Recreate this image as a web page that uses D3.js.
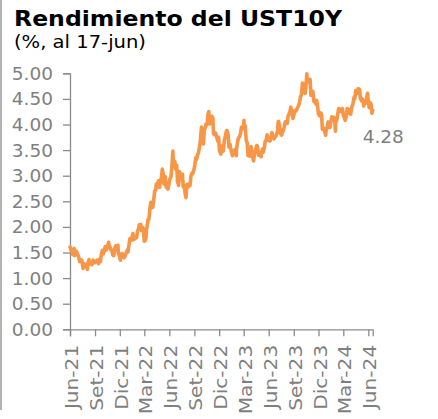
<!DOCTYPE html>
<html>
<head>
<meta charset="utf-8">
<script src="https://cdn.jsdelivr.net/npm/d3@7"></script>
<style>
  html, body { margin: 0; padding: 0; background: #fff; }
  svg { display: block; font-family: "DejaVu Sans", Verdana, sans-serif; }
</style>
</head>
<body>
<svg id="chart" width="438" height="419"></svg>
<script>
// Rendimiento del UST10Y (%, fecha mm-dd)
const y2021 = [
  ["06-01",1.61],["06-04",1.56],["06-08",1.53],["06-11",1.46],["06-16",1.58],["06-18",1.44],
  ["06-23",1.49],["06-25",1.52],["06-30",1.45],["07-02",1.43],["07-07",1.32],["07-09",1.36],
  ["07-14",1.35],["07-16",1.30],["07-19",1.19],["07-23",1.28],["07-27",1.24],["07-30",1.24],
  ["08-04",1.17],["08-06",1.30],["08-10",1.36],["08-13",1.28],["08-18",1.27],["08-20",1.26],
  ["08-25",1.35],["08-27",1.31],["09-01",1.30],["09-03",1.32],["09-08",1.35],["09-10",1.34],
  ["09-14",1.28],["09-17",1.37],["09-21",1.32],["09-24",1.46],["09-28",1.54],["10-01",1.47],
  ["10-05",1.53],["10-08",1.61],["10-13",1.55],["10-15",1.59],["10-21",1.70],["10-22",1.65],
  ["10-26",1.61],["10-29",1.55],["11-02",1.55],["11-05",1.45],["11-09",1.44],["11-12",1.58],
  ["11-16",1.63],["11-19",1.54],["11-24",1.64],["11-26",1.48],["11-30",1.43],["12-03",1.35],
  ["12-07",1.47],["12-10",1.48],["12-14",1.44],["12-17",1.40],["12-20",1.42],["12-24",1.49],
  ["12-29",1.55],["12-31",1.51]
];
const y2022 = [
  ["01-04",1.66],["01-07",1.77],["01-11",1.74],["01-14",1.78],["01-18",1.87],["01-21",1.75],
  ["01-25",1.77],["01-28",1.78],["02-01",1.79],["02-04",1.92],["02-08",1.96],["02-10",2.04],
  ["02-14",1.99],["02-16",2.05],["02-18",1.93],["02-23",1.99],["02-25",1.97],["03-01",1.72],
  ["03-04",1.73],["03-07",1.78],["03-09",1.95],["03-11",2.00],["03-15",2.15],["03-18",2.15],
  ["03-22",2.38],["03-25",2.48],["03-28",2.46],["04-01",2.38],["04-05",2.55],["04-08",2.70],
  ["04-12",2.72],["04-14",2.83],["04-18",2.85],["04-20",2.84],["04-22",2.90],["04-26",2.77],
  ["04-29",2.89],["05-03",2.96],["05-06",3.13],["05-09",3.05],["05-12",2.84],["05-13",2.93],
  ["05-17",2.98],["05-20",2.78],["05-24",2.76],["05-27",2.74],["05-31",2.85],["06-03",2.94],
  ["06-07",2.98],["06-10",3.16],["06-14",3.48],["06-16",3.20],["06-17",3.23],["06-21",3.28],
  ["06-24",3.13],["06-28",3.20],["07-01",2.88],["07-05",2.81],["07-08",3.08],["07-12",2.96],
  ["07-15",2.93],["07-19",3.03],["07-22",2.78],["07-26",2.81],["07-29",2.65],["08-01",2.57],
  ["08-05",2.83],["08-09",2.78],["08-12",2.84],["08-16",2.81],["08-19",2.98],["08-23",3.05],
  ["08-26",3.04],["08-30",3.11],["09-02",3.19],["09-06",3.35],["09-09",3.32],["09-13",3.41],
  ["09-16",3.45],["09-20",3.57],["09-23",3.69],["09-27",3.95],["09-30",3.83],["10-04",3.62],
  ["10-07",3.88],["10-11",3.94],["10-14",4.01],["10-18",4.00],["10-21",4.21],["10-24",4.25],
  ["10-26",4.01],["10-28",4.01],["11-01",4.05],["11-04",4.16],["11-08",4.12],["11-10",3.82],
  ["11-15",3.80],["11-18",3.83],["11-22",3.76],["11-25",3.68],["11-29",3.75],["12-02",3.49],
  ["12-07",3.42],["12-09",3.58],["12-13",3.50],["12-16",3.48],["12-20",3.69],["12-23",3.75],
  ["12-28",3.88],["12-30",3.88]
];
const y2023 = [
  ["01-03",3.79],["01-06",3.56],["01-10",3.61],["01-13",3.51],["01-19",3.39],["01-20",3.48],
  ["01-24",3.47],["01-27",3.51],["01-31",3.52],["02-02",3.39],["02-03",3.53],["02-07",3.67],
  ["02-10",3.74],["02-14",3.76],["02-17",3.82],["02-21",3.95],["02-24",3.95],["02-28",3.92],
  ["03-02",4.08],["03-03",3.96],["03-07",3.97],["03-10",3.70],["03-14",3.64],["03-17",3.39],
  ["03-20",3.49],["03-24",3.38],["03-28",3.57],["03-31",3.47],["04-04",3.34],["04-06",3.29],
  ["04-10",3.41],["04-14",3.51],["04-18",3.59],["04-21",3.57],["04-25",3.40],["04-28",3.44],
  ["05-02",3.44],["05-04",3.37],["05-05",3.44],["05-09",3.52],["05-12",3.46],["05-16",3.54],
  ["05-19",3.67],["05-23",3.70],["05-26",3.80],["05-30",3.69],["06-02",3.69],["06-06",3.68],
  ["06-09",3.74],["06-13",3.84],["06-16",3.76],["06-20",3.72],["06-23",3.74],["06-27",3.77],
  ["06-30",3.81],["07-03",3.86],["07-06",4.05],["07-07",4.06],["07-11",3.97],["07-14",3.83],
  ["07-18",3.79],["07-21",3.84],["07-25",3.89],["07-28",3.96],["08-01",4.05],["08-04",4.03],
  ["08-08",4.02],["08-11",4.16],["08-15",4.21],["08-18",4.25],["08-21",4.34],["08-25",4.24],
  ["08-29",4.12],["09-01",4.18],["09-05",4.27],["09-08",4.26],["09-12",4.29],["09-15",4.33],
  ["09-19",4.37],["09-22",4.43],["09-26",4.55],["09-29",4.57],["10-03",4.81],["10-06",4.78],
  ["10-10",4.65],["10-13",4.61],["10-17",4.83],["10-19",4.99],["10-20",4.91],["10-24",4.83],
  ["10-27",4.84],["10-31",4.88],["11-02",4.67],["11-03",4.57],["11-07",4.58],["11-10",4.65],
  ["11-14",4.45],["11-17",4.44],["11-21",4.40],["11-24",4.47],["11-28",4.34],["12-01",4.20],
  ["12-05",4.17],["12-08",4.23],["12-12",4.21],["12-15",3.91],["12-19",3.93],["12-22",3.90],
  ["12-27",3.79],["12-29",3.88]
];
const y2024 = [
  ["01-02",3.95],["01-05",4.05],["01-09",4.02],["01-12",3.94],["01-16",4.07],["01-19",4.15],
  ["01-23",4.13],["01-26",4.14],["01-30",4.04],["02-01",3.87],["02-02",4.03],["02-06",4.09],
  ["02-09",4.18],["02-13",4.31],["02-16",4.30],["02-20",4.28],["02-23",4.25],["02-27",4.31],
  ["03-01",4.18],["03-05",4.13],["03-08",4.08],["03-12",4.16],["03-15",4.31],["03-19",4.30],
  ["03-22",4.22],["03-26",4.23],["03-28",4.20],["04-02",4.36],["04-05",4.39],["04-10",4.54],
  ["04-12",4.50],["04-16",4.67],["04-19",4.62],["04-23",4.61],["04-25",4.70],["04-30",4.68],
  ["05-03",4.50],["05-07",4.46],["05-10",4.50],["05-14",4.44],["05-15",4.36],["05-17",4.42],
  ["05-21",4.41],["05-24",4.47],["05-29",4.61],["05-31",4.50],["06-04",4.33],["06-07",4.43],
  ["06-11",4.40],["06-14",4.22],["06-17",4.28]
];

const tickFechas = ["2021-06-01","2021-09-01","2021-12-01","2022-03-01","2022-06-01","2022-09-01",
  "2022-12-01","2023-03-01","2023-06-01","2023-09-01","2023-12-01","2024-03-01","2024-06-01"];
const tickEtiquetas = ["Jun-21","Set-21","Dic-21","Mar-22","Jun-22","Set-22","Dic-22",
  "Mar-23","Jun-23","Set-23","Dic-23","Mar-24","Jun-24"];
const yTicks = [0, 0.5, 1, 1.5, 2, 2.5, 3, 3.5, 4, 4.5, 5];

const titulo = "Rendimiento del UST10Y";
const subtitulo = "(%, al 17-jun)";

(function() {
    const parse = d3.timeParse('%Y-%m-%d');
    const serie = [];
    [[2021, y2021], [2022, y2022], [2023, y2023], [2024, y2024]].forEach(([anio, filas]) => {
        filas.forEach(([md, v]) => serie.push({ fecha: parse(anio + '-' + md), valor: v }));
    });

    const axisColor = '#8c8c8c';
    const textColor = '#7f7f7f';

    const svg = d3.select('#chart');

    // borde izquierdo
    svg.append('line')
        .attr('x1', 1).attr('x2', 1).attr('y1', 0).attr('y2', 410)
        .attr('stroke', '#9a9a9a').attr('stroke-width', 1.5);

    svg.append('text')
        .attr('x', 14).attr('y', 26)
        .attr('font-size', 22).attr('font-weight', 'bold').attr('fill', '#000')
        .attr('textLength', 328).attr('lengthAdjust', 'spacingAndGlyphs')
        .text(titulo);

    svg.append('text')
        .attr('x', 14).attr('y', 48)
        .attr('font-size', 18.5).attr('fill', '#000')
        .attr('textLength', 132).attr('lengthAdjust', 'spacingAndGlyphs')
        .text(subtitulo);

    const x = d3.scaleTime()
        .domain([parse('2021-06-01'), parse('2024-06-17')])
        .range([70, 372.7]);
    const y = d3.scaleLinear().domain([0, 5]).range([329.3, 73.3]);

    // eje Y
    const yAxis = svg.append('g')
        .attr('transform', 'translate(70,0)')
        .call(d3.axisLeft(y).tickValues(yTicks).tickFormat(d3.format('.2f')).tickSize(7).tickPadding(10));
    yAxis.select('.domain').attr('stroke', axisColor).attr('stroke-width', 1.3);
    yAxis.selectAll('.tick line').attr('stroke', axisColor).attr('stroke-width', 1.3);
    yAxis.selectAll('.tick text')
        .attr('font-size', 18.5).attr('fill', textColor)
        .attr('font-family', '"DejaVu Sans", Verdana, sans-serif');

    // eje X
    const xAxis = svg.append('g')
        .attr('transform', 'translate(0,' + y(0) + ')')
        .call(d3.axisBottom(x).tickValues(tickFechas.map(parse)).tickSize(7)
            .tickFormat((d, i) => tickEtiquetas[i]));
    xAxis.select('.domain').attr('stroke', axisColor).attr('stroke-width', 1.3);
    xAxis.selectAll('.tick line').attr('stroke', axisColor).attr('stroke-width', 1.3);
    xAxis.selectAll('.tick text')
        .attr('font-size', 17.5).attr('fill', textColor)
        .attr('font-family', '"DejaVu Sans", Verdana, sans-serif')
        .attr('text-anchor', 'end')
        .attr('x', 0).attr('y', 0).attr('dy', null)
        .attr('transform', 'translate(7.5,15.5) rotate(-90) scale(1.15,1)');

    // linea
    const line = d3.line().x(d => x(d.fecha)).y(d => y(d.valor));
    svg.append('path')
        .datum(serie)
        .attr('fill', 'none')
        .attr('stroke', '#f79646')
        .attr('stroke-width', 3.6)
        .attr('stroke-linejoin', 'round')
        .attr('stroke-linecap', 'round')
        .attr('d', line);

    const ultimo = serie[serie.length - 1];
    svg.append('text')
        .attr('x', x(ultimo.fecha) - 10)
        .attr('y', y(ultimo.valor) + 33)
        .attr('font-size', 18.5).attr('fill', textColor)
        .text(d3.format('.2f')(ultimo.valor));
})();
</script>
</body>
</html>
